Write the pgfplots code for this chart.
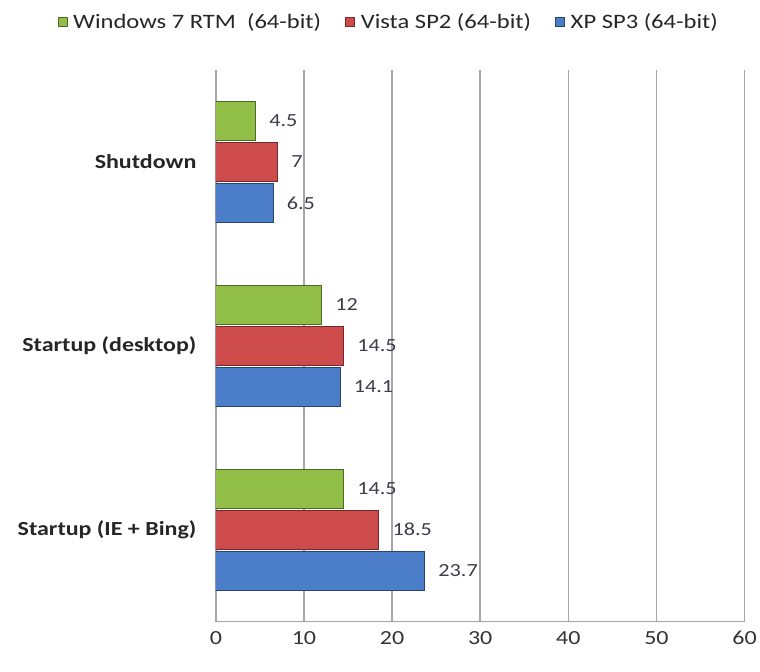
\documentclass[border=0pt]{standalone}
\usepackage{pgfplots}
\pgfplotsset{compat=1.18}
\usepackage{fontspec}
\setmainfont[FakeStretch=1.2]{Carlito}
\definecolor{w7}{RGB}{145,190,70}
\definecolor{vista}{RGB}{205,75,75}
\definecolor{xp}{RGB}{75,125,200}
\definecolor{gridc}{RGB}{165,165,165}
\definecolor{valc}{RGB}{60,60,75}
\begin{document}
\begin{tikzpicture}
\fill[white] (0,0) rectangle (760bp,672bp);
\begin{axis}[
  at={(216bp,50bp)}, anchor=south west,
  scale only axis, width=529bp, height=552bp,
  xbar, bar width=39bp,
  xmin=0, xmax=60, ymin=-0.5, ymax=2.5,
  xtick={0,10,...,60},
  ytick={0,1,2},
  yticklabels={Startup (IE + Bing),Startup (desktop),Shutdown},
  yticklabel style={font=\fontsize{20bp}{22bp}\selectfont\bfseries, text=black!85, xshift=-16bp},
  xticklabel style={font=\fontsize{20bp}{22bp}\selectfont, text=black!80, yshift=-6bp},
  /pgf/number format/assume math mode=true,
  major tick length=0pt,
  axis x line*=bottom, axis y line*=left,
  axis line style={gridc, line width=1.4bp, -},
  xmajorgrids, grid style={gridc, line width=1.4bp},
  nodes near coords,
  nodes near coords style={font=\fontsize{18.5bp}{20bp}\selectfont, text=valc, anchor=west, xshift=10bp},
  legend columns=3,
  legend style={draw=none, fill=none, at={(0.327,1.087)}, anchor=center,
    font=\fontsize{20.5bp}{22bp}\selectfont, text=black!85,
    /tikz/every odd column/.append style={column sep=4bp},
    /tikz/every even column/.append style={column sep=22bp}},
  legend image code/.code={\draw[#1, line width=0.6bp] (0bp,-4.5bp) rectangle (9bp,4.5bp);},
]
\addplot[fill=w7, draw=w7!55!black, line width=0.9bp, bar shift=41bp] coordinates {(14.5,0) (12,1) (4.5,2)};
\addplot[fill=vista, draw=vista!55!black, line width=0.9bp, bar shift=0bp] coordinates {(18.5,0) (14.5,1) (7,2)};
\addplot[fill=xp, draw=xp!55!black, line width=0.9bp, bar shift=-41bp] coordinates {(23.7,0) (14.1,1) (6.5,2)};
\legend{Windows 7 RTM\ \ (64-bit), Vista SP2 (64-bit), XP SP3 (64-bit)}
\end{axis}
\end{tikzpicture}
\end{document}
